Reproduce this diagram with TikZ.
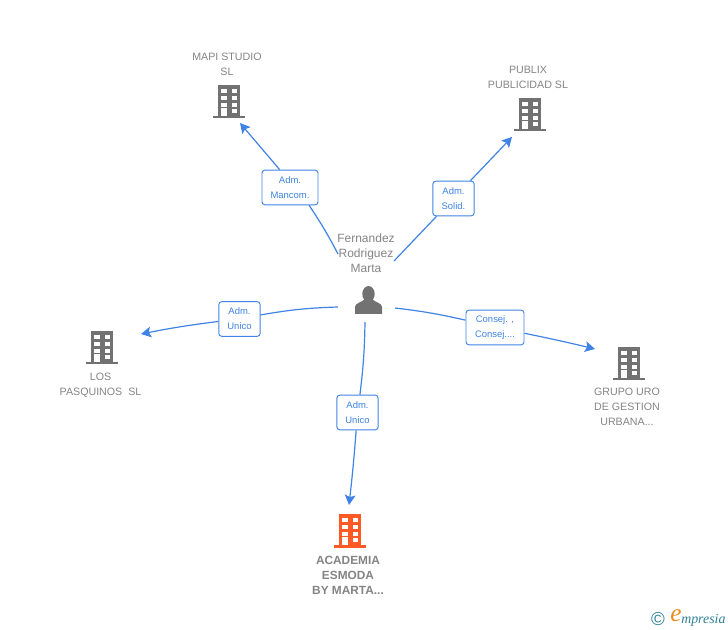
\documentclass[tikz,border=0pt]{standalone}
\usepackage{fontspec}
\setmainfont{Liberation Sans}
\newfontfamily\logofont{Liberation Serif}
\usetikzlibrary{arrows.meta}
\definecolor{linkblue}{HTML}{3F83E4}
\definecolor{txtgray}{HTML}{848484}
\definecolor{icongray}{HTML}{727272}
\definecolor{iconred}{HTML}{FF5A26}
\definecolor{logoteal}{HTML}{2F7F96}
\definecolor{logoorange}{HTML}{F08A1E}
\tikzset{
  company/.style={text=txtgray, align=center, inner sep=0pt, font=\fontsize{8}{11.25}\selectfont},
  lblbox/.style={draw=linkblue, fill=white, rounded corners=2.2pt, line width=0.7pt, text=linkblue,
    align=center, inner sep=0pt, minimum height=26pt, font=\fontsize{7.1}{11.25}\selectfont},
  link/.style={draw=linkblue, line width=0.9pt},
  linkto/.style={link, -{Stealth[length=7.5pt,width=8pt,inset=1.5pt]}},
  pics/tower/.style={code={
    \fill[#1] (-11,-17) rectangle (11,14);
    \fill[#1] (-16,14) rectangle (16,16.5);
    \foreach \y in {-12.7,-6,0.7} {
      \fill[white] (-7.7,\y) rectangle (-2.3,\y+4);
      \fill[white] (2.7,\y) rectangle (7.7,\y+4);
    }
    \fill[white] (-7.7,6.3) rectangle (-2.3,14);
    \fill[white] (2.7,7) rectangle (7.7,11.3);
  }}
}
\begin{document}
\begin{tikzpicture}[x=0.75pt,y=-0.75pt]
\useasboundingbox (0,0) rectangle (728,630);
% buildings
\pic at (229,102) {tower=icongray};
\pic at (530,115) {tower=icongray};
\pic at (102,348) {tower=icongray};
\pic at (629,364) {tower=icongray};
\pic at (350,531) {tower=iconred};
% person
\fill[icongray] (368.5,294) ellipse (6.2 and 8);
\fill[icongray] (355,314) -- (355,307) .. controls (355,303) and (361,303) .. (365,299) -- (372,299)
  .. controls (376,303) and (382,303) .. (382,307) -- (382,314) -- cycle;
% names
\node[company] (mapi) at (227,64) {MAPI STUDIO\\SL};
\node[company] (publix) at (528,77) {PUBLIX\\PUBLICIDAD SL};
\node[company] (pasquinos) at (100.5,385) {LOS\\PASQUINOS~ SL};
\node[company] (uro) at (627,407) {GRUPO URO\\DE GESTION\\URBANA...};
\node[company, font=\fontsize{8.9}{11.25}\selectfont\bfseries] (academia) at (348,575) {ACADEMIA\\ESMODA\\BY MARTA...};
\node[company, font=\fontsize{9}{11.25}\selectfont] (marta) at (366,253) {Fernandez\\Rodriguez\\Marta};
% labels on the links
\node[lblbox, minimum width=42pt] (lmapi) at (290,187.5) {Adm.\\Mancom.};
\node[lblbox, minimum width=31pt] (lpublix) at (453.5,198.5) {Adm.\\Solid.};
\node[lblbox, minimum width=31pt] (lpasquinos) at (239.5,319) {Adm.\\Unico};
\node[lblbox, minimum width=43.5pt] (luro) at (495,327.5) {Consej. ,\\Consej....};
\node[lblbox, minimum width=31pt] (lacademia) at (357.5,412.5) {Adm.\\Unico};
% free ends
\coordinate (smapi) at (338,254);
\coordinate (spublix) at (394,261);
\coordinate (spasquinos) at (338,307);
\coordinate (suro) at (395,308);
\coordinate (sacademia) at (365,322);
\coordinate (emapi) at (240,123);
\coordinate (epublix) at (512,137);
\coordinate (epasquinos) at (141,334);
\coordinate (euro) at (595,349);
\coordinate (eacademia) at (349,505);
% links
\draw[link] (smapi) to[bend right=3] (lmapi.-43);
\draw[linkto] (lmapi.120) -- (emapi);
\draw[link] (spublix) -- (lpublix);
\draw[linkto] (lpublix) -- (epublix);
\draw[link] (spasquinos) to[bend right=4] (lpasquinos);
\draw[linkto] (lpasquinos) to[bend right=2] (epasquinos);
\draw[link] (suro) to[bend left=3] (luro);
\draw[linkto] (luro) to[bend left=1] (euro);
\draw[link] (sacademia) to[bend left=3] (lacademia);
\draw[linkto] (lacademia) to[bend left=1] (eacademia);
% logo
\node[text=logoteal, inner sep=0pt, font=\fontsize{14}{14}\selectfont] (copy) at (658,619) {©};
\node[text=logoorange, inner sep=0pt, font=\logofont\itshape\fontsize{19}{19}\selectfont] (elogo) at (676,616) {e};
\node[text=logoteal, inner sep=0pt, anchor=west, font=\logofont\itshape\fontsize{10.4}{10.4}\selectfont] (mpresia) at (681,620) {mpresia};
\end{tikzpicture}
\end{document}
